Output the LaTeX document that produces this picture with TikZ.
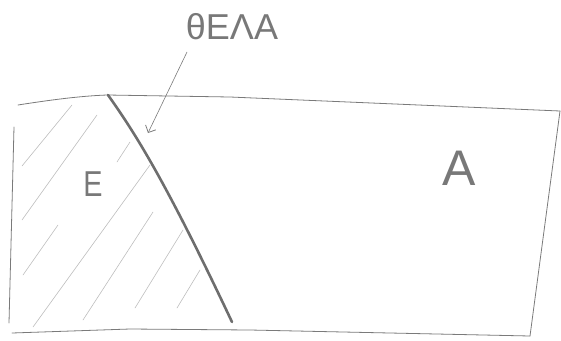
\documentclass[tikz,border=0pt]{standalone}
\usepackage{fontspec}
\setmainfont{Liberation Sans}
\usetikzlibrary{arrows.meta}
\definecolor{pencil}{HTML}{7A7A7A}
\definecolor{hatchc}{HTML}{BDBDBD}
\definecolor{inkc}{HTML}{787878}
\tikzset{
  edgeline/.style={draw=pencil, line width=0.8pt, line cap=round, line join=round},
  boundary/.style={draw=pencil!90!black, line width=2.6pt, line cap=round},
  hatchline/.style={draw=hatchc, line width=0.6pt, line cap=round},
  handtext/.style={text=inkc, inner sep=0pt, font=\fontsize{36}{36}\selectfont},
  pointer/.style={draw=pencil, line width=0.6pt, -{Straight Barb[angle=90:8pt, line width=0.8pt]}}
}
\begin{document}
\begin{tikzpicture}[x=1pt, y=-1pt]
\useasboundingbox (0,0) rectangle (561,340);
% outline of the sheet
\draw[edgeline] (18,105) .. controls (50,100) and (80,96) .. (107,95) -- (230,97) -- (560,111);
\draw[edgeline] (560,111) -- (530,336);
\draw[edgeline] (12,333) -- (130,329) -- (250,330) -- (530,336);
\draw[edgeline] (14,127) -- (9,323);
% hatching of region E
\draw[hatchline] (22,166) -- (72,105);
\draw[hatchline] (22,220) -- (97,115);
\draw[hatchline] (117,162) -- (130,142);
\draw[hatchline] (23,275) -- (58,225);
\draw[hatchline] (33,327) -- (150,165);
\draw[hatchline] (83,320) -- (153,212);
\draw[hatchline] (135,308) -- (183,230);
\draw[hatchline] (177,308) -- (200,270);
% thick boundary
\coordinate (btop) at (108,95);
\coordinate (bbot) at (232,322);
\draw[boundary] (btop) .. controls (135,133) and (165,180) .. (bbot);
% labels
\node[handtext] (lbl) at (232,27) {θΕΛΑ};
\node[handtext, xscale=0.8] (regE) at (93,184) {Ε};
\node[handtext, font=\fontsize{50}{50}\selectfont] (regA) at (459,168) {Α};
% pointer
\coordinate (pstart) at (187,52);
\coordinate (ptip) at (148,133);
\draw[pointer] (pstart) -- (ptip);
\end{tikzpicture}
\end{document}
